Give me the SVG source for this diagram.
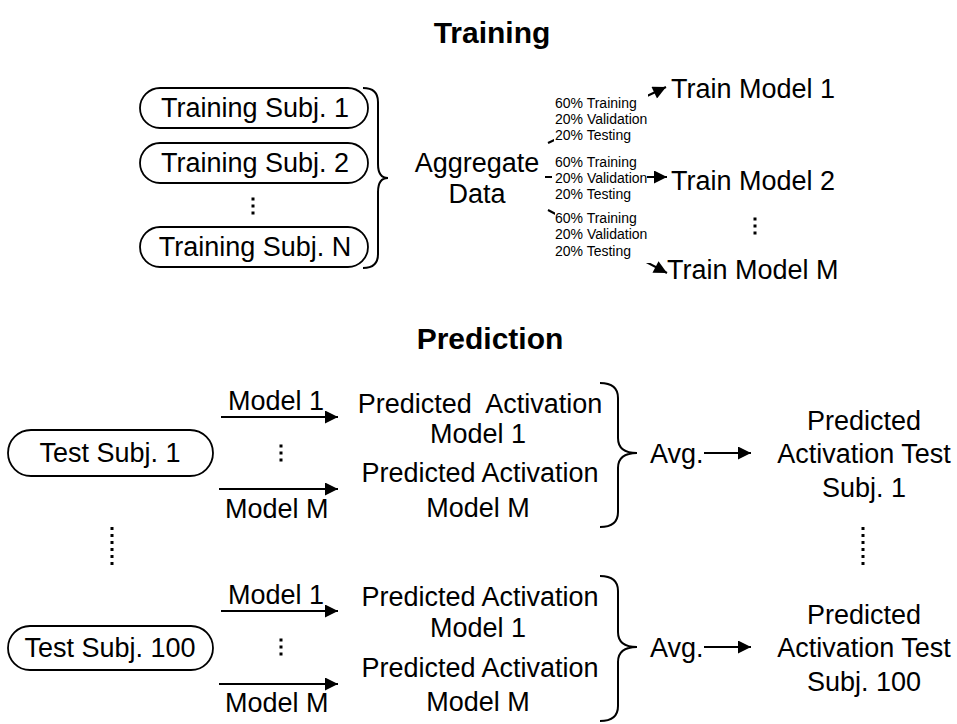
<svg xmlns="http://www.w3.org/2000/svg" width="957" height="724" viewBox="0 0 957 724">
<defs>
<style>
text{font-family:"Liberation Sans",Arial,sans-serif;fill:#000}
.t{font-size:27px}
.c{text-anchor:middle}
.h{font-size:30px;font-weight:bold;text-anchor:middle}
.s{font-size:14px}
.o{fill:#fff;stroke:#000;stroke-width:1.8}
.ln{fill:none;stroke:#000;stroke-width:2}
.br{fill:none;stroke:#000;stroke-width:2}
.dot{fill:#000}
.bg{fill:#fff}
</style>
<marker id="ah" viewBox="0 0 10 10" refX="10" refY="5" markerWidth="7.5" markerHeight="6.5" markerUnits="strokeWidth" orient="auto">
<path d="M0,0 L10,5 L0,10 z" fill="#000"/>
</marker>
<g id="d3"><rect x="-1.5" y="-1.5" width="3" height="3" class="dot"/><rect x="-1.5" y="5.5" width="3" height="3" class="dot"/><rect x="-1.5" y="12.5" width="3" height="3" class="dot"/></g>
<g id="d6"><rect x="-1.5" y="0" width="3" height="3" class="dot"/><rect x="-1.5" y="7" width="3" height="3" class="dot"/><rect x="-1.5" y="14" width="3" height="3" class="dot"/><rect x="-1.5" y="21" width="3" height="3" class="dot"/><rect x="-1.5" y="28" width="3" height="3" class="dot"/><rect x="-1.5" y="35" width="3" height="3" class="dot"/></g>
</defs>
<rect width="957" height="724" fill="#fff"/>

<text class="h" x="492" y="43">Training</text>
<text class="h" x="490" y="349">Prediction</text>

<g id="connectors">
<line class="ln" x1="548" y1="143" x2="666" y2="87" marker-end="url(#ah)"/>
<line class="ln" x1="545" y1="177" x2="667" y2="177" marker-end="url(#ah)"/>
<line class="ln" x1="548" y1="210" x2="667" y2="273" marker-end="url(#ah)"/>
<line class="ln" x1="221" y1="417" x2="338" y2="417" marker-end="url(#ah)"/>
<line class="ln" x1="219" y1="489" x2="338" y2="489" marker-end="url(#ah)"/>
<line class="ln" x1="704" y1="453" x2="751" y2="453" marker-end="url(#ah)"/>
<line class="ln" x1="221" y1="611" x2="338" y2="611" marker-end="url(#ah)"/>
<line class="ln" x1="219" y1="684" x2="338" y2="684" marker-end="url(#ah)"/>
<line class="ln" x1="704" y1="647" x2="751" y2="647" marker-end="url(#ah)"/>
</g>

<g id="train-subj-1"><rect class="o" x="140" y="88" width="228" height="40" rx="20"/><text class="t c" x="255" y="117">Training Subj. 1</text></g>
<g id="train-subj-2"><rect class="o" x="140" y="143" width="228" height="40" rx="20"/><text class="t c" x="255" y="172">Training Subj. 2</text></g>
<use href="#d3" x="253" y="199"/>
<g id="train-subj-n"><rect class="o" x="140" y="227" width="228" height="40" rx="20"/><text class="t c" x="255" y="256">Training Subj. N</text></g>
<path class="br" d="M363,88 Q378,88 378,102 L378,164 Q378,178 388,178 Q378,178 378,192 L378,254 Q378,268 363,268"/>

<g id="aggregate"><text class="t c" x="477" y="172">Aggregate</text><text class="t c" x="477" y="203">Data</text></g>

<g id="split-1"><rect class="bg" x="554" y="94" width="94" height="48"/>
<text class="s" x="555" y="108">60% Training</text><text class="s" x="555" y="124">20% Validation</text><text class="s" x="555" y="140">20% Testing</text></g>
<g id="split-2"><rect class="bg" x="552" y="154" width="95" height="48"/>
<text class="s" x="555" y="167">60% Training</text><text class="s" x="555" y="183">20% Validation</text><text class="s" x="555" y="199">20% Testing</text></g>
<g id="split-3"><rect class="bg" x="555" y="211" width="96" height="52"/>
<text class="s" x="555" y="223">60% Training</text><text class="s" x="555" y="239">20% Validation</text><text class="s" x="555" y="256">20% Testing</text></g>

<g id="train-model-1"><text class="t" x="671" y="98">Train Model 1</text></g>
<g id="train-model-2"><text class="t" x="671" y="190">Train Model 2</text></g>
<use href="#d3" x="755" y="219"/>
<g id="train-model-m"><text class="t" x="667" y="279">Train Model M</text></g>

<!-- Prediction block 1 -->
<g id="test-subj-1"><rect class="o" x="8" y="430" width="205" height="46" rx="23"/><text class="t c" x="110" y="462">Test Subj. 1</text></g>
<text class="t" x="228" y="410">Model 1</text>
<use href="#d3" x="281" y="446"/>
<text class="t" x="225" y="518">Model M</text>
<g id="pred-1-1"><text class="t c" x="480" y="413" xml:space="preserve">Predicted  Activation</text><text class="t c" x="478" y="443">Model 1</text></g>
<g id="pred-1-m"><text class="t c" x="480" y="482">Predicted Activation</text><text class="t c" x="478" y="517">Model M</text></g>
<path class="br" d="M600,383 Q618,383 618,398 L618,438 Q618,453 637,453 Q618,453 618,468 L618,512 Q618,527 600,527"/>
<text class="t" x="650" y="463">Avg.</text>
<g id="result-1"><text class="t c" x="864" y="430">Predicted</text><text class="t c" x="864" y="463">Activation Test</text><text class="t c" x="864" y="497">Subj. 1</text></g>

<use href="#d6" x="112" y="527"/>
<use href="#d6" x="863" y="527"/>

<!-- Prediction block 2 -->
<g id="test-subj-100"><rect class="o" x="8" y="626" width="205" height="44" rx="22"/><text class="t c" x="110" y="657">Test Subj. 100</text></g>
<text class="t" x="228" y="604">Model 1</text>
<use href="#d3" x="281" y="640"/>
<text class="t" x="225" y="712">Model M</text>
<g id="pred-100-1"><text class="t c" x="480" y="606">Predicted Activation</text><text class="t c" x="478" y="637">Model 1</text></g>
<g id="pred-100-m"><text class="t c" x="480" y="677">Predicted Activation</text><text class="t c" x="478" y="711">Model M</text></g>
<path class="br" d="M600,576 Q618,576 618,591 L618,632 Q618,647 637,647 Q618,647 618,662 L618,706 Q618,721 600,721"/>
<text class="t" x="650" y="657">Avg.</text>
<g id="result-100"><text class="t c" x="864" y="624">Predicted</text><text class="t c" x="864" y="657">Activation Test</text><text class="t c" x="864" y="691">Subj. 100</text></g>
</svg>
